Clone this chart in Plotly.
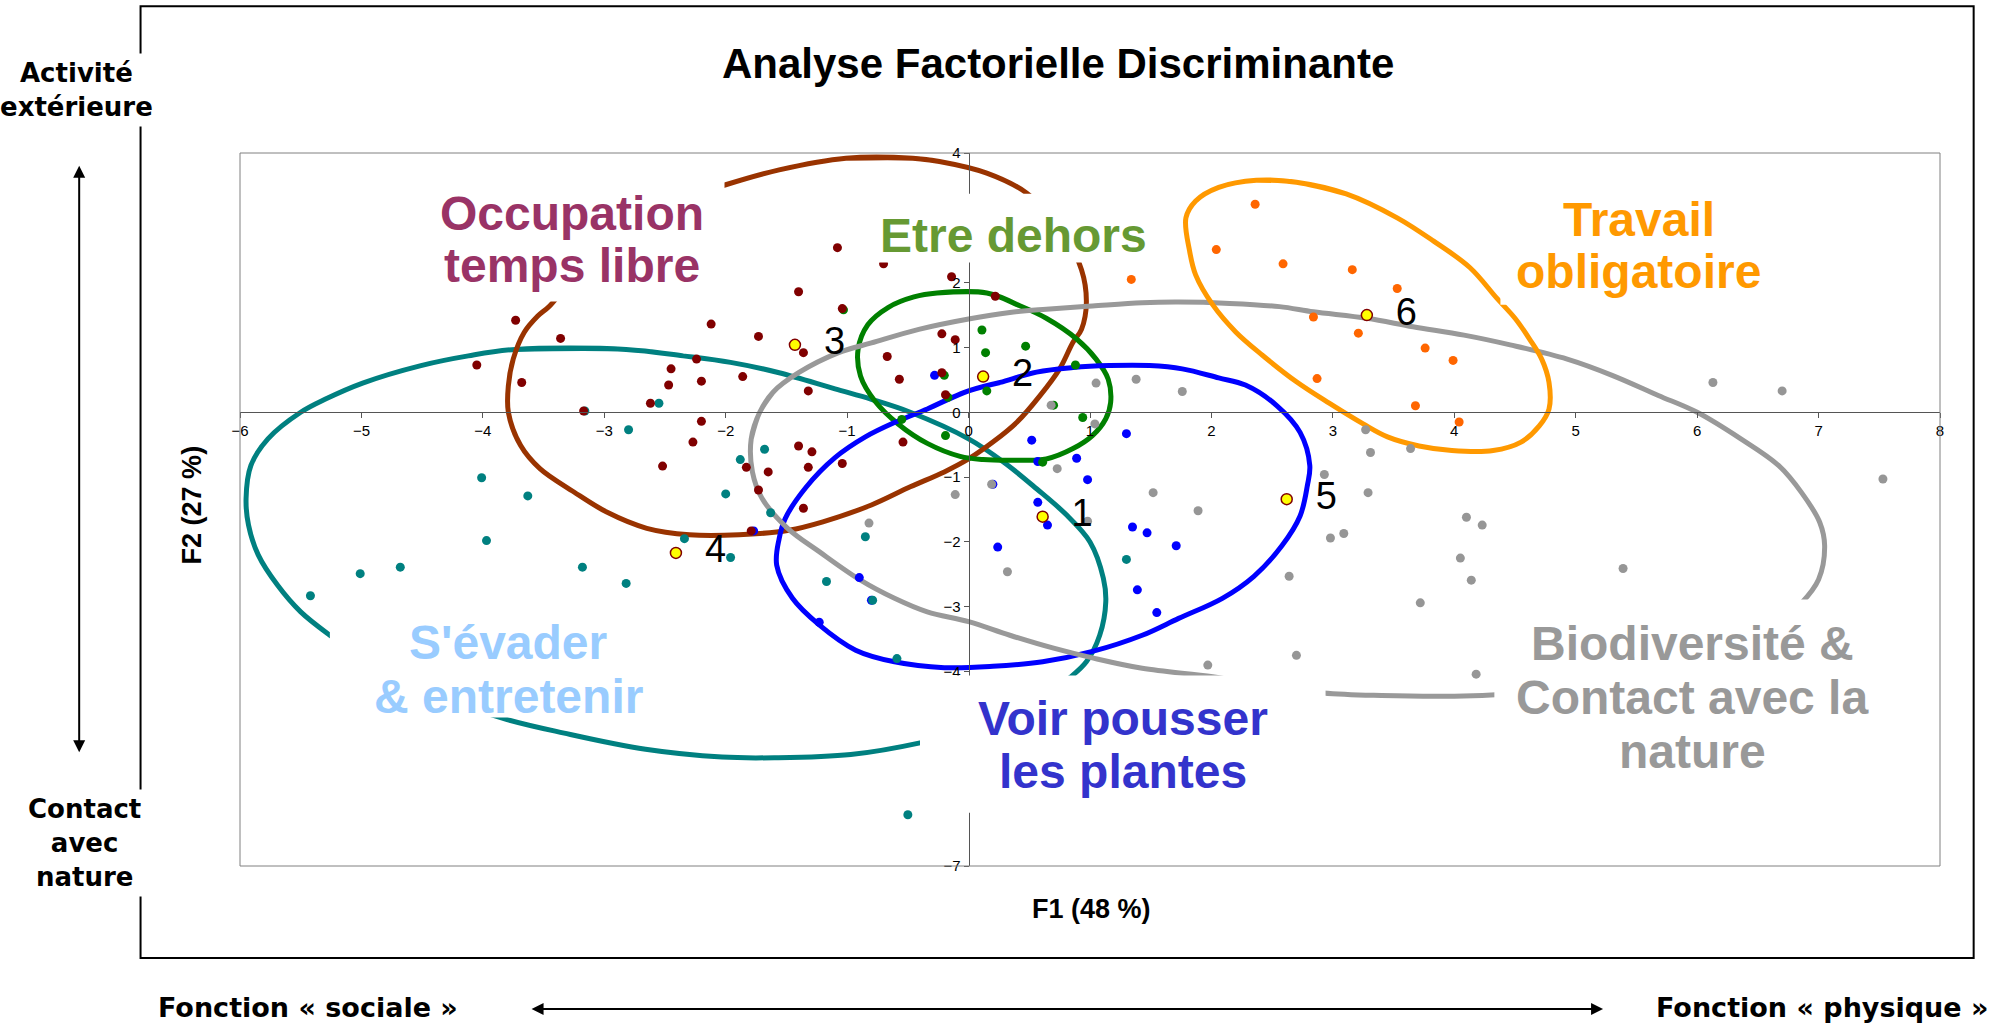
import plotly.graph_objects as go

FONT = "Liberation Sans, Arial, sans-serif"
WIDE = "DejaVu Sans, Verdana, sans-serif"

X_RANGE = [-6, 8]
Y_RANGE = [-7, 4]
X_TICKS = list(range(-6, 9))
Y_TICKS = [4, 2, 1, 0, -1, -2, -3, -4, -7]   # 3, -5, -6 sit under the label boxes

# ---- individual scores on F1 / F2, one pair of lists per group ----
OCC_X = [-1.08, -0.70, -1.40, -1.04, -3.73, -3.36, -2.12, -1.73, -1.36, -4.05, -3.68, -2.24, -2.45, -2.47,
         -2.20, -1.86, -1.32, -0.67, -0.57, -2.62, -3.17, -2.20, -2.27, -2.52, -1.40, -1.29, -1.32, -1.04,
         -0.54, -1.83, -1.65, -1.73, -1.36, -1.79, -0.14, 0.22, -0.22, -0.11, -0.22, -0.19]
OCC_Y = [2.54, 2.29, 1.86, 1.60, 1.42, 1.14, 1.36, 1.17, 0.92, 0.73, 0.46, 0.82, 0.67, 0.42,
         0.48, 0.55, 0.33, 0.86, 0.51, 0.14, 0.02, -0.14, -0.46, -0.83, -0.52, -0.61, -0.85, -0.79,
         -0.46, -0.85, -0.92, -1.20, -1.48, -1.83, 2.09, 1.79, 1.21, 1.12, 0.61, 0.27]

EVA_X = [-2.55, -3.16, -2.80, -1.68, -1.88, -2.00, -4.01, -3.63, -1.63, -0.85, -3.97, -2.34, -5.01, -4.68,
         -5.42, -3.18, -2.82, -1.96, -1.17, -0.79, -0.59, -0.50, 1.30]
EVA_Y = [0.14, 0.02, -0.27, -0.57, -0.73, -1.26, -1.01, -1.29, -1.55, -1.92, -1.98, -1.95, -2.49, -2.39,
         -2.83, -2.39, -2.64, -2.24, -2.61, -2.90, -3.80, -6.21, -2.27]

DEH_X = [0.11, 0.14, 0.47, 0.88, -0.20, 0.15, -0.17, 0.70, 0.94, -0.55, -0.19, 0.61, -1.03]
DEH_Y = [1.27, 0.92, 1.02, 0.73, 0.57, 0.33, 0.23, 0.11, -0.08, -0.11, -0.36, -0.77, 1.58]

VOI_X = [-0.28, 0.52, 0.89, 0.57, 1.30, 0.98, 0.20, 0.57, 0.65, 0.24, 1.35, 1.47, 1.71, 1.39, 1.55,
         -0.90, -0.80, -1.23, -1.77]
VOI_Y = [0.57, -0.43, -0.71, -0.76, -0.33, -1.04, -1.11, -1.39, -1.74, -2.08, -1.77, -1.86, -2.06, -2.74,
         -3.09, -2.55, -2.90, -3.24, -1.83]

BIO_X = [1.05, 1.38, 1.76, 0.68, 1.04, 0.73, 0.19, -0.11, 1.52, 1.89, 0.98, -0.82, 0.32, 1.97, 6.13,
         6.70, 3.27, 3.31, 3.64, 2.93, 3.29, 7.53, 4.10, 4.23, 2.98, 3.09, 4.05, 4.14, 5.39, 2.64, 3.72,
         2.70, 4.18]
BIO_Y = [0.45, 0.51, 0.32, 0.11, -0.18, -0.87, -1.11, -1.27, -1.24, -1.52, -1.68, -1.71, -2.46, -3.90, 0.46,
         0.33, -0.27, -0.62, -0.56, -0.96, -1.24, -1.03, -1.62, -1.74, -1.94, -1.87, -2.25, -2.59, -2.41,
         -2.53, -2.94, -3.75, -4.04]

TRA_X = [2.36, 2.04, 2.59, 3.16, 3.53, 2.84, 3.21, 3.76, 3.99, 2.87, 3.68, 4.04, 1.34]
TRA_Y = [3.21, 2.51, 2.29, 2.20, 1.91, 1.47, 1.22, 0.99, 0.80, 0.52, 0.10, -0.15, 2.05]

# group centroids
CENT_X = [0.61, 0.12, -1.43, -2.41, 2.62, 3.28]
CENT_Y = [-1.61, 0.55, 1.04, -2.17, -1.34, 1.50]
CENT_LABELS = ["1", "2", "3", "4", "5", "6"]

# ---- confidence ellipses ----
OCC_EX = [-1.01, -0.46, -0.24, 0.15, 0.48, 0.75, 0.93, 0.97, 0.93, 0.86, 0.75, 0.59, 0.40, 0.20, 0.00,
          -0.20, -0.48, -0.80, -1.20, -1.48, -1.89, -2.30, -2.65, -2.98, -3.25, -3.53, -3.69, -3.79, -3.79,
          -3.75, -3.66, -3.55, -3.45, -3.20, -2.80, -2.40, -2.00, -1.56]
OCC_EY = [3.92, 3.92, 3.87, 3.69, 3.38, 2.85, 2.20, 1.69, 1.28, 1.08, 0.67, 0.26, -0.15, -0.46, -0.72,
          -0.92, -1.15, -1.43, -1.69, -1.82, -1.89, -1.89, -1.79, -1.54, -1.23, -0.87, -0.51, 0.00, 0.41,
          0.82, 1.23, 1.48, 1.64, 2.20, 2.85, 3.25, 3.51, 3.74]

EVA_EX = [-3.73, -2.82, -2.35, -1.96, -1.56, -1.10, -0.80, -0.48, 0.00, 0.29, 0.56, 0.81, 1.00, 1.11, 1.13,
          1.08, 0.97, 0.83, 0.50, 0.00, -0.40, -0.97, -1.60, -2.03, -2.66, -3.33, -3.84, -4.40, -4.90,
          -5.26, -5.50, -5.69, -5.85, -5.93, -5.95, -5.91, -5.77, -5.50, -5.30, -4.99, -4.51, -4.12]
EVA_EY = [0.97, 0.97, 0.87, 0.77, 0.61, 0.36, 0.20, 0.00, -0.41, -0.77, -1.18, -1.59, -2.00, -2.56, -2.92,
          -3.44, -3.85, -4.10, -4.55, -4.90, -5.10, -5.28, -5.33, -5.32, -5.20, -4.95, -4.72, -4.35, -3.90,
          -3.44, -3.08, -2.67, -2.20, -1.74, -1.33, -0.82, -0.41, 0.00, 0.20, 0.45, 0.72, 0.87]

DEH_EX = [-0.26, 0.15, 0.40, 0.64, 0.89, 1.05, 1.15, 1.17, 1.13, 1.02, 0.86, 0.64, 0.40, 0.12, -0.07,
          -0.34, -0.58, -0.77, -0.89, -0.91, -0.83, -0.66, -0.45]
DEH_EY = [1.84, 1.84, 1.66, 1.45, 1.13, 0.82, 0.51, 0.15, -0.10, -0.36, -0.56, -0.72, -0.74, -0.73, -0.68,
          -0.48, -0.18, 0.17, 0.56, 0.97, 1.35, 1.62, 1.78]

VOI_EX = [-0.34, 0.00, 0.26, 0.56, 0.86, 1.16, 1.49, 1.76, 2.06, 2.28, 2.54, 2.73, 2.81, 2.79, 2.73, 2.58,
          2.35, 2.09, 1.73, 1.43, 1.02, 0.61, 0.20, -0.20, -0.61, -0.93, -1.23, -1.45, -1.58, -1.56, -1.51,
          -1.34, -1.10, -0.85, -0.60]
VOI_EY = [0.05, 0.33, 0.46, 0.62, 0.69, 0.72, 0.72, 0.67, 0.53, 0.42, 0.10, -0.31, -0.82, -1.13, -1.60,
          -2.06, -2.53, -2.87, -3.18, -3.44, -3.69, -3.85, -3.92, -3.94, -3.85, -3.67, -3.28, -2.87, -2.36,
          -1.95, -1.64, -1.16, -0.70, -0.38, -0.15]

BIO_EX = [-1.79, -1.72, -1.61, -1.40, -1.07, -0.80, -0.41, 0.00, 0.34, 0.64, 1.02, 1.43, 1.73, 2.15, 2.56,
          2.84, 3.28, 3.66, 4.08, 4.46, 4.93, 5.30, 5.68, 6.00, 6.36, 6.67, 6.86, 7.01, 7.05, 7.00, 6.86,
          6.50, 6.00, 5.30, 4.60, 4.00, 3.40, 2.92, 2.40, 2.01, 1.43, 1.02, 0.70, 0.34, 0.00, -0.34, -0.61,
          -0.89, -1.23, -1.49, -1.70, -1.78]
BIO_EY = [-0.41, 0.00, 0.31, 0.61, 0.92, 1.07, 1.28, 1.44, 1.54, 1.59, 1.64, 1.69, 1.70, 1.68, 1.63,
          1.55, 1.45, 1.32, 1.19, 1.04, 0.82, 0.57, 0.26, 0.00, -0.41, -0.82, -1.24, -1.70, -2.06, -2.58,
          -2.94, -3.50, -3.90, -4.20, -4.33, -4.38, -4.37, -4.33, -4.20, -4.08, -3.95, -3.79, -3.64, -3.44,
          -3.23, -3.08, -2.87, -2.59, -2.15, -1.79, -1.33, -0.92]

TRA_EX = [2.37, 2.70, 3.11, 3.53, 3.83, 4.13, 4.35, 4.50, 4.62, 4.72, 4.78, 4.78, 4.70, 4.55, 4.32, 3.98,
          3.71, 3.45, 3.25, 2.97, 2.70, 2.42, 2.20, 2.01, 1.87, 1.82, 1.79, 1.87, 2.06]
TRA_EY = [3.58, 3.55, 3.37, 3.00, 2.64, 2.23, 1.76, 1.45, 1.13, 0.82, 0.46, 0.05, -0.21, -0.46, -0.59, -0.59,
          -0.52, -0.38, -0.18, 0.14, 0.47, 0.88, 1.24, 1.66, 2.12, 2.49, 3.00, 3.26, 3.47]

# (ellipse x, ellipse y, line colour)
ELLIPSES = [
    (EVA_EX, EVA_EY, "#008080"),
    (OCC_EX, OCC_EY, "#993300"),
    (DEH_EX, DEH_EY, "#008000"),
    (VOI_EX, VOI_EY, "#0000FF"),
    (BIO_EX, BIO_EY, "#999999"),
    (TRA_EX, TRA_EY, "#FF9900"),
]
# drawing order of the point clouds (last on top)
POINTS = [
    (VOI_X, VOI_Y, "#0000FF"),
    (DEH_X, DEH_Y, "#008000"),
    (EVA_X, EVA_Y, "#008080"),
    (BIO_X, BIO_Y, "#969696"),
    (TRA_X, TRA_Y, "#FF6600"),
    (OCC_X, OCC_Y, "#800000"),
]


def closed(vals):
    # go round once more past the start so the spline closes smoothly
    return list(vals) + list(vals[:3])


fig = go.Figure()
for ex, ey, col in ELLIPSES:
    fig.add_trace(go.Scatter(x=closed(ex), y=closed(ey), mode="lines", hoverinfo="skip",
                             line=dict(color=col, width=5, shape="spline", smoothing=1.0)))
for px, py, col in POINTS:
    fig.add_trace(go.Scatter(x=px, y=py, mode="markers", marker=dict(color=col, size=9)))
fig.add_trace(go.Scatter(
    x=CENT_X, y=CENT_Y, mode="markers+text",
    text=["  " + s for s in CENT_LABELS], textposition="middle right",
    textfont=dict(family=FONT, size=38, color="black"),
    marker=dict(color="#FFFF00", size=11, line=dict(color="#800000", width=1.5)),
))

# white boxes behind the group names (they hide the curves, as in the original)
MASKS = [
    (-4.52, -2.01, 1.71, 3.67),
    (-0.885, 1.63, 2.31, 3.37),
    (4.38, 6.67, 1.66, 3.51),
    (-5.26, -2.33, -4.71, -3.20),
    (-0.40, 2.94, -6.18, -4.06),
    (4.33, 7.60, -5.83, -2.89),
]
GROUP_TEXT = [
    ("Occupation", -3.27, 3.07, "#993366"),
    ("temps libre", -3.27, 2.27, "#993366"),
    ("Etre dehors", 0.37, 2.72, "#669933"),
    ("Travail", 5.52, 2.97, "#FF9900"),
    ("obligatoire", 5.52, 2.17, "#FF9900"),
    ("S'évader", -3.79, -3.55, "#99CCFF"),
    ("& entretenir", -3.79, -4.38, "#99CCFF"),
    ("Voir pousser", 1.27, -4.73, "#3333CC"),
    ("les plantes", 1.27, -5.54, "#3333CC"),
    ("Biodiversité &", 5.96, -3.57, "#999999"),
    ("Contact avec la", 5.96, -4.40, "#999999"),
    ("nature", 5.96, -5.23, "#999999"),
]

shapes = [
    # outer frame of the slide figure
    dict(type="rect", xref="paper", yref="paper", x0=-0.0585, x1=1.0198, y0=-0.1289, y1=1.2058,
         line=dict(color="black", width=2), layer="above"),
    # plot area border
    dict(type="rect", xref="paper", yref="paper", x0=0, x1=1, y0=0, y1=1,
         line=dict(color="#808080", width=1), layer="above"),
]
for x0, x1, y0, y1 in MASKS:
    shapes.append(dict(type="rect", xref="x", yref="y", x0=x0, x1=x1, y0=y0, y1=y1,
                       fillcolor="white", line=dict(width=0), layer="above"))


def paper_text(text, x, y, family, size, **kw):
    return dict(text=text, xref="paper", yref="paper", x=x, y=y, xanchor="center", yanchor="middle",
                showarrow=False, font=dict(family=family, size=size, color="black"), **kw)


annotations = [
    paper_text("<b>Analyse Factorielle Discriminante</b>", 0.481, 1.126, FONT, 42),
    paper_text("<b>F1 (48 %)</b>", 0.501, -0.060, FONT, 27),
    paper_text("<b>F2 (27 %)</b>", -0.0285, 0.5065, FONT, 27, textangle=-90),
    paper_text("<b>Activité<br>extérieure</b>", -0.0961, 1.0885, WIDE, 26, bgcolor="white", borderpad=4),
    paper_text("<b>Contact<br>avec<br>nature</b>", -0.0916, 0.0324, WIDE, 26, bgcolor="white", borderpad=4),
    paper_text("<b>Fonction « sociale »</b>", 0.0399, -0.1989, WIDE, 27),
    paper_text("<b>Fonction « physique »</b>", 0.9304, -0.1989, WIDE, 27),
    # double arrows
    dict(text="", xref="paper", yref="paper", x=0.8018, y=-0.2004, ax=-1073, ay=0,
         showarrow=True, arrowside="end+start", arrowhead=2, startarrowhead=2,
         arrowsize=1.2, startarrowsize=1.2, arrowwidth=2, arrowcolor="black", standoff=0, startstandoff=0),
    dict(text="", xref="paper", yref="paper", x=-0.0946, y=0.982, ax=0, ay=588,
         showarrow=True, arrowside="end+start", arrowhead=2, startarrowhead=2,
         arrowsize=1.2, startarrowsize=1.2, arrowwidth=2, arrowcolor="black", standoff=0, startstandoff=0),
]
for txt, x, y, col in GROUP_TEXT:
    annotations.append(dict(text="<b>" + txt + "</b>", x=x, y=y, xref="x", yref="y", showarrow=False,
                            xanchor="center", yanchor="middle",
                            font=dict(family=FONT, size=48, color=col)))

axis_common = dict(showgrid=False, zeroline=False, showline=True, linecolor="#555555", linewidth=1,
                   ticks="outside", ticklen=5, tickcolor="#555555",
                   tickfont=dict(family=FONT, size=15, color="black"), anchor="free")

fig.update_layout(
    width=2003, height=1025,
    margin=dict(l=240, r=63, t=153, b=159),
    paper_bgcolor="white", plot_bgcolor="white",
    showlegend=False,
    xaxis=dict(range=X_RANGE, tickvals=X_TICKS,
               position=(0 - Y_RANGE[0]) / (Y_RANGE[1] - Y_RANGE[0]), **axis_common),
    yaxis=dict(range=Y_RANGE, tickvals=Y_TICKS,
               position=(0 - X_RANGE[0]) / (X_RANGE[1] - X_RANGE[0]), **axis_common),
    shapes=shapes,
    annotations=annotations,
)

fig.write_html("out.html", config={"displayModeBar": False},
               post_script="document.body.style.margin='0';")
